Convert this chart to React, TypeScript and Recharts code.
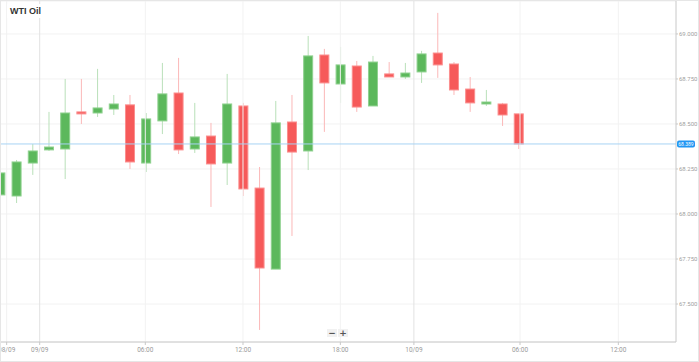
import React from "react";
import {
  ComposedChart,
  Bar,
  XAxis,
  YAxis,
  CartesianGrid,
  ReferenceLine,
} from "recharts";

// hourly candles
const opens = [68.106, 68.1, 68.283, 68.356, 68.361, 68.567, 68.561, 68.583, 68.606, 68.283, 68.517, 68.672, 68.361, 68.433, 68.283, 68.6, 68.144, 67.694, 68.511, 68.35, 68.883, 68.722, 68.822, 68.6, 68.778, 68.761, 68.789, 68.894, 68.833, 68.694, 68.611, 68.611, 68.556];
const closes = [68.228, 68.289, 68.35, 68.372, 68.561, 68.556, 68.589, 68.611, 68.289, 68.528, 68.667, 68.356, 68.428, 68.278, 68.611, 68.139, 67.7, 68.506, 68.344, 68.878, 68.728, 68.828, 68.594, 68.844, 68.761, 68.783, 68.889, 68.828, 68.689, 68.617, 68.622, 68.55, 68.389];
const highs = [68.228, 68.3, 68.389, 68.567, 68.75, 68.75, 68.806, 68.661, 68.661, 68.561, 68.839, 68.867, 68.617, 68.506, 68.778, 68.617, 68.261, 68.628, 68.661, 68.989, 68.917, 68.928, 68.85, 68.878, 68.844, 68.839, 68.906, 69.117, 68.844, 68.761, 68.689, 68.617, 68.556];
const lows = [68.106, 68.061, 68.217, 68.35, 68.194, 68.5, 68.539, 68.55, 68.25, 68.233, 68.444, 68.333, 68.339, 68.039, 68.161, 68.1, 67.356, 67.694, 67.878, 68.244, 68.456, 68.617, 68.567, 68.6, 68.761, 68.75, 68.728, 68.756, 68.661, 68.567, 68.6, 68.489, 68.361];

const xTickPos = [0.38, 2.42, 8.94, 14.97, 20.98, 25.52, 32.07, 38.14];
const xTickLabels = ["08/09", "09/09", "06:00", "12:00", "18:00", "10/09", "06:00", "12:00"];
const dayTicks = [2.42, 25.52];
const yTicks = [67.5, 67.75, 68, 68.25, 68.5, 68.75, 69];
const lastPrice = 68.389;

const data = opens.map((o, i) => ({
  i,
  open: o,
  close: closes[i],
  high: highs[i],
  low: lows[i],
}));

const Candle = (props: any) => {
  const { x, y, width, height, payload } = props;
  const { open, close, high, low } = payload;
  const up = close >= open;
  const span = high - low || 1;
  const toY = (v: number) => y + ((high - v) / span) * height;
  const cx = x + width / 2;
  const top = toY(Math.max(open, close));
  const bottom = toY(Math.min(open, close));
  const h = Math.max(bottom - top, 2);
  return (
    <g>
      <line
        x1={cx}
        x2={cx}
        y1={y}
        y2={y + height}
        stroke={up ? "#b9e0b9" : "#fbb8b8"}
        strokeWidth={1}
      />
      <rect
        x={x + 0.5}
        y={top}
        width={width - 1}
        height={h}
        fill={up ? "#5cb85c" : "#f65a5a"}
        stroke={up ? "#8fd18f" : "#fb8e8e"}
        strokeWidth={1}
      />
    </g>
  );
};

const XTick = ({ x, y, payload }: any) => {
  const idx = xTickPos.indexOf(payload.value);
  return (
    <text x={x} y={y + 7} textAnchor="middle" fontSize={6.5} fill="#9a9a9a" fontFamily="Roboto, sans-serif">
      {xTickLabels[idx]}
    </text>
  );
};

const YTick = ({ x, y, payload }: any) => (
  <text x={x + 1} y={y + 2} textAnchor="start" fontSize={6} fill="#a0a0a0" fontFamily="Roboto, sans-serif">
    {payload.value.toFixed(3)}
  </text>
);

const PriceLabel = ({ viewBox }: any) => {
  const rx = viewBox.x + viewBox.width + 1;
  return (
    <g>
      <rect x={rx} y={viewBox.y - 3.5} width={18} height={7} rx={2} fill="#2196f3" />
      <text x={rx + 9} y={viewBox.y + 2} textAnchor="middle" fontSize={5} fill="#fff" fontFamily="Roboto, sans-serif">
        {lastPrice.toFixed(3)}
      </text>
    </g>
  );
};

const btn: React.CSSProperties = {
  position: "absolute",
  top: 329,
  width: 10,
  height: 8,
  background: "#f1f1f1",
  color: "#555",
  fontSize: 9,
  lineHeight: "8px",
  textAlign: "center",
  fontFamily: "DejaVu Sans, sans-serif",
  fontWeight: "bold",
};

export default function App() {
  return (
    <div style={{ position: "absolute", left: 0, top: 0, width: 699, height: 362, background: "#fff" }}>
      <ComposedChart
        width={699}
        height={362}
        data={data}
        margin={{ top: 1, right: 0, left: 0, bottom: 0 }}
      >
        <CartesianGrid vertical={false} stroke="#f2f2f2" />
        {xTickPos.map((t) => (
          <ReferenceLine
            key={t}
            x={t}
            stroke={dayTicks.includes(t) ? "#e2e2e2" : "#f2f2f2"}
            strokeWidth={1}
          />
        ))}
        <XAxis
          dataKey="i"
          type="number"
          domain={[-0.03, 41.7]}
          ticks={xTickPos}
          interval={0}
          allowDataOverflow
          height={20}
          tickSize={3}
          tickMargin={0}
          stroke="#c8c8c8"
          tick={<XTick />}
        />
        <YAxis
          orientation="right"
          type="number"
          domain={[67.289, 69.183]}
          ticks={yTicks}
          allowDataOverflow
          width={23}
          tickSize={2}
          tickMargin={0}
          stroke="#c8c8c8"
          tick={<YTick />}
        />
        <ReferenceLine y={lastPrice} stroke="#a8d4f5" strokeWidth={1} label={<PriceLabel />} />
        <Bar
          dataKey={(d: any) => [d.low, d.high]}
          barSize={10}
          shape={<Candle />}
          isAnimationActive={false}
        />
      </ComposedChart>
      <div
        style={{
          position: "absolute",
          left: 7,
          top: 4,
          padding: "2px 3px",
          background: "#fff",
          fontFamily: "Liberation Sans, Arial, sans-serif",
          fontWeight: "bold",
          fontSize: 9,
          color: "#333",
        }}
      >
        WTI Oil
      </div>
      <div style={{ ...btn, left: 327 }}>−</div>
      <div style={{ ...btn, left: 338 }}>+</div>
      <div
        style={{
          position: "absolute",
          left: 0,
          top: 0,
          width: 699,
          height: 362,
          boxSizing: "border-box",
          border: "1px solid #e6e6e6",
          pointerEvents: "none",
        }}
      />
    </div>
  );
}
